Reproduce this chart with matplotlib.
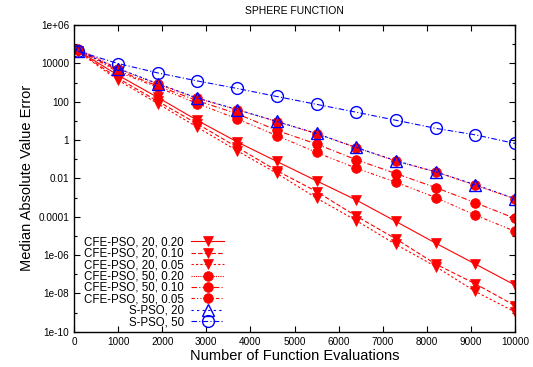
import numpy as np
import matplotlib
matplotlib.use('Agg')
import matplotlib.pyplot as plt
from matplotlib.ticker import FixedLocator, FuncFormatter

plt.rcParams['font.family'] = ['Liberation Sans', 'DejaVu Sans']

evals = [100, 1000, 1900, 2800, 3700, 4600, 5500, 6400, 7300, 8200, 9100, 10000]

# log10 of the median absolute error
cfe20_020 = [4.65, 3.38, 2.22, 1.02, -0.10, -1.12, -2.13, -3.13, -4.25, -5.38, -6.47, -7.57]
cfe20_010 = [4.62, 3.22, 2.02, 0.84, -0.38, -1.60, -2.69, -3.97, -5.16, -6.47, -7.50, -8.64]
cfe20_005 = [4.60, 3.12, 1.90, 0.66, -0.56, -1.74, -3.03, -4.20, -5.45, -6.60, -7.90, -8.97]
cfe50_020 = [4.75, 3.72, 2.92, 2.17, 1.58, 0.96, 0.33, -0.40, -1.10, -1.66, -2.36, -3.07]
cfe50_010 = [4.72, 3.62, 2.82, 2.05, 1.37, 0.50, -0.21, -1.03, -1.75, -2.48, -3.27, -4.09]
cfe50_005 = [4.70, 3.55, 2.75, 1.90, 1.10, 0.23, -0.65, -1.47, -2.20, -3.00, -3.92, -4.76]
spso20 = [4.64, 3.73, 2.94, 2.19, 1.59, 0.97, 0.34, -0.39, -1.08, -1.66, -2.33, -3.06]
spso50 = [4.62, 3.99, 3.50, 3.08, 2.69, 2.27, 1.86, 1.45, 1.03, 0.61, 0.27, -0.18]

series = [
    ('CFE-PSO, 20, 0.20', cfe20_020, 'red', 'v', True, '-'),
    ('CFE-PSO, 20, 0.10', cfe20_010, 'red', 'v', True, (0, (4, 2))),
    ('CFE-PSO, 20, 0.05', cfe20_005, 'red', 'v', True, (0, (2, 2))),
    ('CFE-PSO, 50, 0.20', cfe50_020, 'red', 'o', True, (0, (1, 1))),
    ('CFE-PSO, 50, 0.10', cfe50_010, 'red', 'o', True, (0, (5, 2, 1, 2))),
    ('CFE-PSO, 50, 0.05', cfe50_005, 'red', 'o', True, (0, (3, 2, 1, 2, 1, 2))),
    ('S-PSO, 20', spso20, 'blue', '^', False, (0, (2, 3))),
    ('S-PSO, 50', spso50, 'blue', 'o', False, (0, (5, 2, 1, 2))),
]

fig = plt.figure(figsize=(5.33, 3.67), dpi=100)
ax = fig.add_axes([74 / 533, 1 - 331.7 / 367, 441 / 533, 306.7 / 367])

for label, vals, color, marker, filled, ls in series:
    y = 10.0 ** np.array(vals)
    size = 8.5 if not filled else 7.0
    ax.plot(evals, y, color=color, linestyle=ls, linewidth=0.8,
            marker=marker, markersize=size,
            markerfacecolor=color if filled else 'none',
            markeredgecolor=color, markeredgewidth=1.0 if not filled else 0.5,
            label=label)

ax.set_yscale('log')
ax.set_xlim(0, 10000)
ax.set_ylim(1e-10, 1e6)
ax.set_xticks(np.arange(0, 10001, 1000))
ax.yaxis.set_major_locator(FixedLocator([10.0 ** k for k in range(-10, 7, 2)]))
ax.yaxis.set_minor_locator(FixedLocator([10.0 ** k for k in range(-9, 6, 2)]))
ax.yaxis.set_minor_formatter(FuncFormatter(lambda v, p: ''))
ax.yaxis.set_major_formatter(FuncFormatter(lambda v, p: '%g' % v))
ax.tick_params(which='both', direction='in', top=True, right=True, labelsize=7.2)
ax.tick_params(which='major', length=4, width=0.8)
ax.tick_params(which='minor', length=2.5, width=0.8)
for s in ax.spines.values():
    s.set_linewidth(1.0)

ax.set_title('SPHERE FUNCTION', fontsize=7.5, pad=8)
ax.set_xlabel('Number of Function Evaluations', fontsize=10.5, labelpad=2)
ax.set_ylabel('Median Absolute Value Error', fontsize=10.5, labelpad=3)

leg = ax.legend(loc='lower left', bbox_to_anchor=(0.015, 0.0), frameon=False,
                markerfirst=False, fontsize=8.3, handlelength=2.9,
                handletextpad=0.6, labelspacing=-0.05, borderaxespad=0.0,
                borderpad=0.3)

fig.savefig('out.png', dpi=100)
